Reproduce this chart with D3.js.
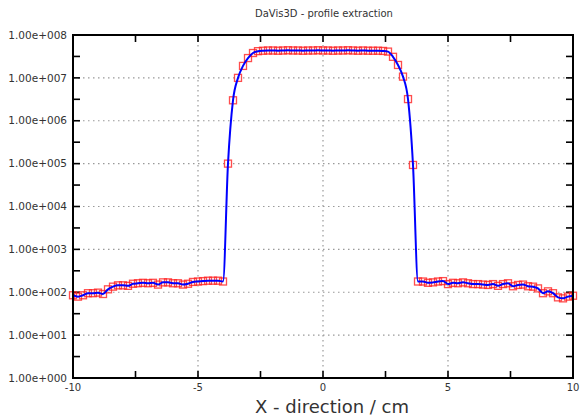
<!DOCTYPE html>
<style>
  body { margin: 0; background: #fff; }
  .chart text { font-family: "DejaVu Sans", Verdana, sans-serif; fill: #333; }
  .grid line { stroke: #999; stroke-width: 1.2; stroke-dasharray: 1.5,3.5; }
</style>
<body>
  <svg id="chart" class="chart"></svg>
</body>
<script src="https://cdnjs.cloudflare.com/ajax/libs/d3/7.8.5/d3.min.js"></script>
<script>
  const xs = [
    -10.0, -9.8, -9.6, -9.4, -9.2, -9.0, -8.8, -8.6, -8.4, -8.2,
    -8.0, -7.8, -7.6, -7.4, -7.2, -7.0, -6.8, -6.6, -6.4, -6.2,
    -6.0, -5.8, -5.6, -5.4, -5.2, -5.0, -4.8, -4.6, -4.4, -4.2,
    -4.0, -3.8, -3.6, -3.4, -3.2, -3.0, -2.8, -2.6, -2.4, -2.2,
    -2.0, -1.8, -1.6, -1.4, -1.2, -1.0, -0.8, -0.6, -0.4, -0.2,
    0.0, 0.2, 0.4, 0.6, 0.8, 1.0, 1.2, 1.4, 1.6, 1.8,
    2.0, 2.2, 2.4, 2.6, 2.8, 3.0, 3.2, 3.4, 3.6, 3.8,
    4.0, 4.2, 4.4, 4.6, 4.8, 5.0, 5.2, 5.4, 5.6, 5.8,
    6.0, 6.2, 6.4, 6.6, 6.8, 7.0, 7.2, 7.4, 7.6, 7.8,
    8.0, 8.2, 8.4, 8.6, 8.8, 9.0, 9.2, 9.4, 9.6, 9.8,
    10.0
  ]
  const values = [
    85, 79, 85, 95, 95, 98, 91, 117, 135, 145,
    145, 141, 158, 162, 166, 162, 166, 151, 170, 170,
    162, 162, 151, 158, 174, 178, 182, 186, 186, 186,
    178, 1.0e5, 3.0e6, 1.0e7, 1.9e7, 2.9e7, 3.8e7, 4.2e7, 4.3e7, 4.35e7,
    4.35e7, 4.3e7, 4.35e7, 4.4e7, 4.35e7, 4.35e7, 4.3e7, 4.35e7, 4.35e7, 4.4e7,
    4.35e7, 4.35e7, 4.3e7, 4.35e7, 4.35e7, 4.4e7, 4.35e7, 4.3e7, 4.35e7, 4.3e7,
    4.3e7, 4.3e7, 4.25e7, 4.1e7, 3.1e7, 2.0e7, 1.07e7, 3.2e6, 9.3e4, 178,
    178, 166, 170, 178, 182, 155, 166, 162, 170, 162,
    155, 155, 151, 148, 155, 141, 155, 162, 138, 148,
    151, 138, 135, 123, 95, 105, 95, 76, 72, 79,
    83
  ]
  const xTickLabels = [-10, -5, 0, 5, 10]
  const yTickLabels = [1e0, 1e1, 1e2, 1e3, 1e4, 1e5, 1e6, 1e7, 1e8]

  const [ width, height ] = [ 580, 419 ]
  const m = { top: 35, right: 7, bottom: 41, left: 73 }

  const data = xs.map((x, i) => ({ x, y: values[i] }))

  const x = d3.scaleLinear().domain([-10, 10]).range([m.left, width - m.right])
  const y = d3.scaleLog().domain([1, 1e8]).range([height - m.bottom, m.top])

  const svg = d3.select('#chart')
      .attr('width', width)
      .attr('height', height)

  // dotted grid
  const grid = svg.append('g').attr('class', 'grid')
  grid.selectAll('.gx')
      .data([-5, 0, 5])
    .enter().append('line')
      .attr('x1', d => x(d)).attr('x2', d => x(d))
      .attr('y1', m.top).attr('y2', height - m.bottom)
  grid.selectAll('.gy')
      .data(yTickLabels.slice(1, -1))
    .enter().append('line')
      .attr('y1', d => y(d)).attr('y2', d => y(d))
      .attr('x1', m.left).attr('x2', width - m.right)

  // ticks pointing inward, on all four sides
  const tl = 7
  const xt = [-7.5, -5, -2.5, 0, 2.5, 5, 7.5]
  const yt = d3.range(0.5, 8, 0.5).map(e => Math.pow(10, e))
  const ticks = svg.append('g').attr('stroke', '#000').attr('stroke-width', 1.6)
  xt.forEach(d => {
    ticks.append('line').attr('x1', x(d)).attr('x2', x(d)).attr('y1', m.top).attr('y2', m.top + tl)
    ticks.append('line').attr('x1', x(d)).attr('x2', x(d)).attr('y1', height - m.bottom).attr('y2', height - m.bottom - tl)
  })
  yt.forEach(d => {
    ticks.append('line').attr('y1', y(d)).attr('y2', y(d)).attr('x1', m.left).attr('x2', m.left + tl)
    ticks.append('line').attr('y1', y(d)).attr('y2', y(d)).attr('x1', width - m.right).attr('x2', width - m.right - tl)
  })

  // red square markers
  svg.append('g')
    .selectAll('rect')
      .data(data)
    .enter().append('rect')
      .attr('x', d => x(d.x) - 3.5)
      .attr('y', d => y(d.y) - 3.5)
      .attr('width', 7)
      .attr('height', 7)
      .attr('fill', 'none')
      .attr('stroke', '#ff2020')
      .attr('stroke-opacity', 0.8)
      .attr('stroke-width', 1.3)

  // blue profile line
  const line = d3.line()
      .x(d => x(d.x))
      .y(d => y(d.y))
      .curve(d3.curveMonotoneX)
  svg.append('path')
      .datum(data)
      .attr('d', line)
      .attr('fill', 'none')
      .attr('stroke', '#0000ff')
      .attr('stroke-width', 2)

  // frame
  svg.append('rect')
      .attr('x', m.left).attr('y', m.top)
      .attr('width', width - m.left - m.right)
      .attr('height', height - m.top - m.bottom)
      .attr('fill', 'none')
      .attr('stroke', '#000')
      .attr('stroke-width', 2)

  // labels
  const fmt = d => {
    const e = Math.round(Math.log10(d))
    return '1.00e+' + String(e).padStart(3, '0')
  }
  svg.append('g')
    .selectAll('text')
      .data(yTickLabels)
    .enter().append('text')
      .attr('x', m.left - 6)
      .attr('y', d => y(d))
      .attr('dy', '.35em')
      .attr('text-anchor', 'end')
      .style('font-size', '10.5px')
      .text(fmt)

  svg.append('g')
    .selectAll('text')
      .data(xTickLabels)
    .enter().append('text')
      .attr('x', d => x(d))
      .attr('y', height - m.bottom + 13)
      .attr('text-anchor', 'middle')
      .style('font-size', '10px')
      .text(d => `${d}`)

  svg.append('text')
      .attr('x', 324)
      .attr('y', 17)
      .attr('text-anchor', 'middle')
      .style('font-size', '10px')
      .text('DaVis3D - profile extraction')

  svg.append('text')
      .attr('x', 332)
      .attr('y', 413)
      .attr('text-anchor', 'middle')
      .style('font-size', '18px')
      .text('X - direction / cm')
</script>
